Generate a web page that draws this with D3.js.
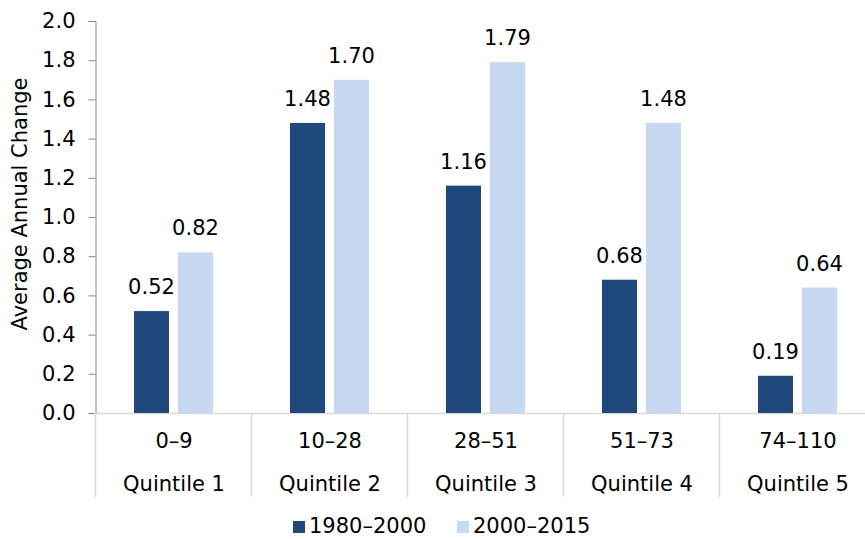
<!DOCTYPE html>
<html><head><meta charset="utf-8">
<script src="https://cdn.jsdelivr.net/npm/d3@7"></script>
<style>body{margin:0;background:#fff}svg{display:block;font-family:"DejaVu Sans",Verdana,sans-serif}</style>
</head><body><svg id="c" width="865" height="539"></svg>
<script>
const ranges = ["0–9","10–28","28–51","51–73","74–110"];
const quintiles = ["Quintile 1","Quintile 2","Quintile 3","Quintile 4","Quintile 5"];
const seriesNames = ["1980–2000","2000–2015"];
const s1980 = [0.52,1.48,1.16,0.68,0.19];
const s2000 = [0.82,1.70,1.79,1.48,0.64];
const yTicks = [0,0.2,0.4,0.6,0.8,1.0,1.2,1.4,1.6,1.8,2.0];
const colors = ["#1F497D","#C6D9F0"];

const svg = d3.select("#c");
const fs = 21;
const x = d3.scaleBand().domain(ranges).range([96,876]).paddingInner(0).paddingOuter(0);
const xs = d3.scaleBand().domain(seriesNames).range([38,117]).paddingInner(0.2045);
const y = d3.scaleLinear().domain([0,2]).range([413,21]);

// y axis
const ya = svg.append("g").attr("transform","translate(95.5,0)")
  .call(d3.axisLeft(y).tickValues(yTicks).tickFormat(d3.format(".1f")).tickSize(7).tickPadding(13));
ya.select(".domain").attr("stroke","#868686");
ya.selectAll(".tick line").attr("stroke","#868686");
ya.selectAll(".tick text").attr("font-size",fs).attr("fill","#000").attr("font-family","DejaVu Sans");

// x baseline and separators
svg.append("line").attr("x1",95.5).attr("x2",876).attr("y1",413.5).attr("y2",413.5).attr("stroke","#d9d9d9").attr("stroke-width",1.5);
const seps = ranges.map(r=>x(r)).concat([x.range()[1]]);
svg.selectAll("line.sep").data(seps).join("line").attr("class","sep")
  .attr("x1",d=>d-0.5).attr("x2",d=>d-0.5).attr("y1",413).attr("y2",497)
  .attr("stroke","#d9d9d9").attr("stroke-width",1.5);

// bars
const data = ranges.map((r,i)=>({r, vals:[s1980[i],s2000[i]]}));
const g = svg.selectAll("g.grp").data(data).join("g").attr("class","grp")
  .attr("transform",d=>`translate(${x(d.r)},0)`);
g.selectAll("rect").data(d=>d.vals.map((v,j)=>({v,s:seriesNames[j],j}))).join("rect")
  .attr("x",d=>xs(d.s)).attr("width",xs.bandwidth())
  .attr("y",d=>y(d.v)).attr("height",d=>y(0)-y(d.v)).attr("fill",d=>colors[d.j]);
g.selectAll("text.lbl").data(d=>d.vals.map((v,j)=>({v,s:seriesNames[j],j}))).join("text").attr("class","lbl")
  .attr("x",d=>xs(d.s)+xs.bandwidth()/2).attr("y",d=>y(d.v)-17)
  .attr("text-anchor","middle").attr("font-size",fs).attr("fill","#000").text(d=>d.v.toFixed(2));

// category labels
svg.selectAll("text.rng").data(ranges).join("text").attr("class","rng")
  .attr("x",d=>x(d)+x.bandwidth()/2).attr("y",448).attr("text-anchor","middle")
  .attr("font-size",fs).text(d=>d);
svg.selectAll("text.qnt").data(quintiles).join("text").attr("class","qnt")
  .attr("x",(d,i)=>x(ranges[i])+x.bandwidth()/2).attr("y",491).attr("text-anchor","middle")
  .attr("font-size",fs).text(d=>d);

// y title
svg.append("text").attr("transform","translate(27,204) rotate(-90)").attr("text-anchor","middle")
  .attr("font-size",fs).text("Average Annual Change");

// legend
const lx = [293,457];
const lg = svg.selectAll("g.leg").data(seriesNames).join("g").attr("class","leg")
  .attr("transform",(d,i)=>`translate(${lx[i]},0)`);
lg.append("rect").attr("x",0).attr("y",521).attr("width",12).attr("height",12).attr("fill",(d,i)=>colors[i]);
lg.append("text").attr("x",16).attr("y",533).attr("font-size",fs).text(d=>d);
</script></body></html>
